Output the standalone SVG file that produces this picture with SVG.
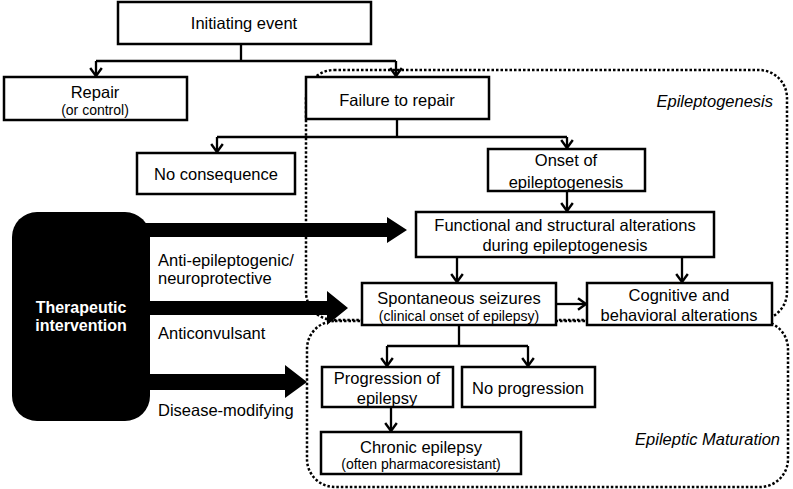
<svg xmlns="http://www.w3.org/2000/svg" width="793" height="489" viewBox="0 0 793 489">
<style>
.box{fill:#fff;stroke:#000;stroke-width:2.5}
.t{font-family:"Liberation Sans",Arial,sans-serif;font-size:16.5px;fill:#000;text-anchor:middle}
.s{font-family:"Liberation Sans",Arial,sans-serif;font-size:14px;fill:#000;text-anchor:middle}
.lab{font-family:"Liberation Sans",Arial,sans-serif;font-size:16.5px;fill:#000}
.it{font-family:"Liberation Sans",Arial,sans-serif;font-size:16.5px;font-style:italic;fill:#000;text-anchor:end}
.region{fill:none;stroke:#000;stroke-width:2.5;stroke-dasharray:2.5 2}
.c{fill:none;stroke:#000;stroke-width:2.3}
.ca{fill:none;stroke:#000;stroke-width:2.3;marker-end:url(#ah)}
.big{fill:#000}
</style>
<defs>
<marker id="ah" viewBox="0 0 10 14" refX="9" refY="7" markerUnits="userSpaceOnUse" markerWidth="10" markerHeight="14" orient="auto">
<path d="M1,1.2 L9,7 L1,12.8" fill="none" stroke="#000" stroke-width="2.4"/>
</marker>
</defs>
<rect width="793" height="489" fill="#fff"/>
<g id="regions">
<rect id="epileptogenesis-region" class="region" x="306" y="70" width="481" height="250" rx="28"/>
<rect id="maturation-region" class="region" x="307" y="321" width="481" height="166" rx="28"/>
<text class="it" x="773" y="107">Epileptogenesis</text>
<text class="it" x="780" y="445">Epileptic Maturation</text>
</g>
<g id="connectors">
<path class="c" d="M241,44 V61 M96,61 H396"/>
<path class="ca" d="M96,61 V76"/>
<path class="ca" d="M396,61 V76"/>
<path class="c" d="M397,119 V137 M217,137 H567"/>
<path class="ca" d="M217,137 V152"/>
<path class="ca" d="M567,137 V148"/>
<path class="ca" d="M567,191 V211"/>
<path class="ca" d="M457,257 V282"/>
<path class="ca" d="M682,257 V282"/>
<path class="ca" d="M556,304 H586"/>
<path class="c" d="M459,325 V346 M387,346 H528"/>
<path class="ca" d="M387,346 V366"/>
<path class="ca" d="M528,346 V366"/>
<path class="ca" d="M391,407 V431"/>
<polygon class="big" points="145,223 387,223 387,217 407,230 387,243 387,237 145,237"/>
<polygon class="big" points="145,301 327,301 327,291 348,308 327,325 327,315 145,315"/>
<polygon class="big" points="145,374 285,374 285,365 307,382 285,398 285,390 145,390"/>
</g>
<g id="initiating-event">
<rect class="box" x="118" y="2" width="253" height="42"/>
<text class="t" x="244" y="29">Initiating event</text>
</g>
<g id="repair">
<rect class="box" x="4" y="77" width="183" height="43"/>
<text class="t" x="95" y="98">Repair</text>
<text class="s" x="95" y="115">(or control)</text>
</g>
<g id="failure-to-repair">
<rect class="box" x="306" y="77" width="183" height="42"/>
<text class="t" x="397" y="106">Failure to repair</text>
</g>
<g id="no-consequence">
<rect class="box" x="137" y="153" width="158" height="41"/>
<text class="t" x="216" y="180">No consequence</text>
</g>
<g id="onset">
<rect class="box" x="488" y="149" width="157" height="42"/>
<text class="t" x="566" y="166">Onset of</text>
<text class="t" x="566" y="188">epileptogenesis</text>
</g>
<g id="functional">
<rect class="box" x="416" y="212" width="298" height="45"/>
<text class="t" x="565" y="231">Functional and structural alterations</text>
<text class="t" x="565" y="251">during epileptogenesis</text>
</g>
<g id="spontaneous">
<rect class="box" x="362" y="283" width="194" height="42"/>
<text class="t" x="459" y="304">Spontaneous seizures</text>
<text class="s" x="459" y="321">(clinical onset of epilepsy)</text>
</g>
<g id="cognitive">
<rect class="box" x="587" y="283" width="185" height="42"/>
<text class="t" x="679" y="301">Cognitive and</text>
<text class="t" x="679" y="321">behavioral alterations</text>
</g>
<g id="progression">
<rect class="box" x="322" y="367" width="131" height="40"/>
<text class="t" x="387" y="384">Progression of</text>
<text class="t" x="387" y="404">epilepsy</text>
</g>
<g id="no-progression">
<rect class="box" x="462" y="367" width="133" height="40"/>
<text class="t" x="528" y="394">No progression</text>
</g>
<g id="chronic">
<rect class="box" x="321" y="432" width="200" height="42"/>
<text class="t" x="421" y="453">Chronic epilepsy</text>
<text class="s" x="421" y="469">(often pharmacoresistant)</text>
</g>
<g id="therapeutic">
<rect x="12" y="212" width="138" height="209" rx="25" fill="#000"/>
<text class="t" x="81" y="313" style="fill:#fff;font-weight:bold;font-size:16px">Therapeutic</text>
<text class="t" x="81" y="331" style="fill:#fff;font-weight:bold;font-size:16px">intervention</text>
</g>
<g id="labels">
<text class="lab" x="158" y="266">Anti-epileptogenic/</text>
<text class="lab" x="158" y="284">neuroprotective</text>
<text class="lab" x="158" y="339">Anticonvulsant</text>
<text class="lab" x="158" y="416">Disease-modifying</text>
</g>
</svg>
